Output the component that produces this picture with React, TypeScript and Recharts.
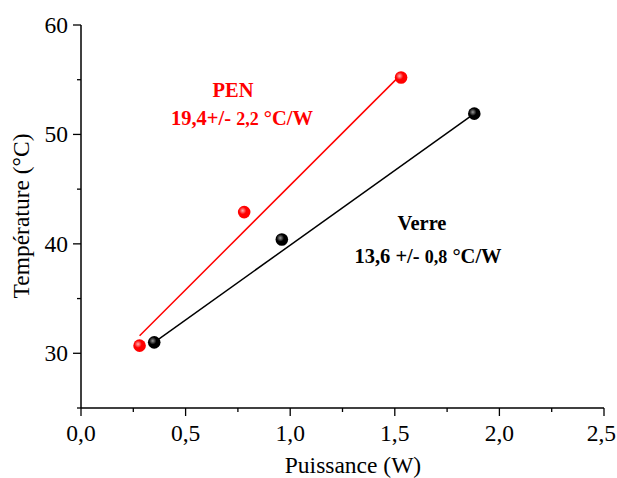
import React from "react";
import { ScatterChart, Scatter, XAxis, YAxis } from "recharts";

// measured points
const penPower = [0.28, 0.78, 1.53];
const penTemp = [30.7, 42.9, 55.2];
const verrePower = [0.35, 0.96, 1.88];
const verreTemp = [31.0, 40.4, 51.9];

// linear fits (end points)
const penFitPower = [0.28, 1.51];
const penFitTemp = [31.6, 55.1];
const verreFitPower = [0.35, 1.88];
const verreFitTemp = [31.0, 51.9];

const xTicks = [0, 0.25, 0.5, 0.75, 1, 1.25, 1.5, 1.75, 2, 2.25, 2.5];
const yTicks = [25, 30, 35, 40, 45, 50, 55, 60];

const toPts = (xs: number[], ys: number[]) => xs.map((p, i) => ({ p, t: ys[i] }));

const penData = toPts(penPower, penTemp);
const verreData = toPts(verrePower, verreTemp);
const penFit = toPts(penFitPower, penFitTemp);
const verreFit = toPts(verreFitPower, verreFitTemp);

const FONT = "'Liberation Serif', 'Times New Roman', serif";

const isMajor = (v: number, step: number) => Math.abs(v / step - Math.round(v / step)) < 1e-6;
const fmt = (v: number, d: number) => v.toFixed(d).replace(".", ",");

const BottomTick = (props: any) => {
  const { x, y, payload } = props;
  const major = isMajor(payload.value, 0.5);
  // keep the last label inside the picture
  const last = payload.value === 2.5;
  return (
    <g>
      <line x1={x} x2={x} y1={y} y2={y + (major ? 8 : 4)} stroke="#000" strokeWidth={1.3} />
      {major && (
        <text
          x={last ? x + 12 : x}
          y={y + 33}
          textAnchor={last ? "end" : "middle"}
          fontFamily={FONT}
          fontSize={23.5}
          fill="#000"
        >
          {fmt(payload.value, 1)}
        </text>
      )}
    </g>
  );
};

const TopTick = (props: any) => {
  const { x, y, payload } = props;
  const major = isMajor(payload.value, 0.5);
  return <line x1={x} x2={x} y1={y} y2={y + (major ? 8 : 4)} stroke="#000" strokeWidth={1.3} />;
};

const LeftTick = (props: any) => {
  const { x, y, payload } = props;
  const major = isMajor(payload.value, 10) && payload.value !== 25;
  const isMinor = !isMajor(payload.value, 10);
  return (
    <g>
      <line x1={x} x2={x - (isMinor ? 4 : 8)} y1={y} y2={y} stroke="#000" strokeWidth={1.3} />
      {major && (
        <text x={x - 13} y={y + 8} textAnchor="end" fontFamily={FONT} fontSize={23.5} fill="#000">
          {payload.value}
        </text>
      )}
    </g>
  );
};

const RightTick = (props: any) => {
  const { x, y, payload } = props;
  const isMinor = !isMajor(payload.value, 10);
  return <line x1={x} x2={x - (isMinor ? 4 : 8)} y1={y} y2={y} stroke="#000" strokeWidth={1.3} />;
};

const Sphere = (color: string, light: string, id: string) => (props: any) => {
  const { cx, cy } = props;
  return (
    <g>
      <defs>
        <radialGradient id={id} cx="0.38" cy="0.38" r="0.65">
          <stop offset="0%" stopColor={light} />
          <stop offset="45%" stopColor={color} />
          <stop offset="100%" stopColor={color} />
        </radialGradient>
      </defs>
      <circle cx={cx} cy={cy} r={6.3} fill={`url(#${id})`} />
    </g>
  );
};

const RedSphere = Sphere("#ff0000", "#ffb0b0", "gradRed");
const BlackSphere = Sphere("#000000", "#9a9a9a", "gradBlack");
const NoShape = () => <g />;

export default function App() {
  return (
    <div style={{ position: "absolute", left: 0, top: 0, width: 617, height: 478, background: "#fff" }}>
      <ScatterChart width={617} height={478} margin={{ top: 25, right: 13, bottom: 0, left: 0 }}>
        <XAxis
          xAxisId="bottom"
          dataKey="p"
          type="number"
          domain={[0, 2.5]}
          ticks={xTicks}
          interval={0}
          height={70}
          tickSize={0}
          tickMargin={0}
          tickLine={false}
          axisLine={{ stroke: "#000", strokeWidth: 1.5 }}
          tick={<BottomTick />}
          allowDataOverflow
        />
        <XAxis
          xAxisId="top"
          orientation="top"
          type="number"
          domain={[0, 2.5]}
          ticks={xTicks}
          interval={0}
          height={0}
          tickSize={0}
          tickMargin={0}
          tickLine={false}
          axisLine={{ stroke: "#000", strokeWidth: 1.5 }}
          tick={<TopTick />}
          allowDataOverflow
        />
        <YAxis
          yAxisId="left"
          dataKey="t"
          type="number"
          domain={[25, 60]}
          ticks={yTicks}
          interval={0}
          width={81}
          tickSize={0}
          tickMargin={0}
          tickLine={false}
          axisLine={{ stroke: "#000", strokeWidth: 1.5 }}
          tick={<LeftTick />}
          allowDataOverflow
        />
        <YAxis
          yAxisId="right"
          orientation="right"
          type="number"
          domain={[25, 60]}
          ticks={yTicks}
          interval={0}
          width={0}
          tickSize={0}
          tickMargin={0}
          tickLine={false}
          axisLine={{ stroke: "#000", strokeWidth: 1.5 }}
          tick={<RightTick />}
          allowDataOverflow
        />
        <Scatter
          xAxisId="bottom"
          yAxisId="left"
          data={penFit}
          line={{ stroke: "#ff0000", strokeWidth: 1.5 }}
          shape={NoShape}
          isAnimationActive={false}
        />
        <Scatter
          xAxisId="bottom"
          yAxisId="left"
          data={verreFit}
          line={{ stroke: "#000000", strokeWidth: 1.5 }}
          shape={NoShape}
          isAnimationActive={false}
        />
        <Scatter xAxisId="bottom" yAxisId="left" data={penData} shape={RedSphere} isAnimationActive={false} />
        <Scatter xAxisId="bottom" yAxisId="left" data={verreData} shape={BlackSphere} isAnimationActive={false} />
      </ScatterChart>
      <svg width={617} height={478} style={{ position: "absolute", left: 0, top: 0, pointerEvents: "none" }}>
        <text x={353} y={473} textAnchor="middle" fontFamily={FONT} fontSize={23.5} fill="#000">
          Puissance (W)
        </text>
        <text
          x={29}
          y={216}
          textAnchor="middle"
          fontFamily={FONT}
          fontSize={23.5}
          fill="#000"
          transform="rotate(-90, 29, 216)"
        >
          Température (°C)
        </text>
        <text x={233} y={97} textAnchor="middle" fontFamily={FONT} fontSize={20.5} fontWeight="bold" fill="#ff0000">
          PEN
        </text>
        <text x={242} y={125} textAnchor="middle" fontFamily={FONT} fontSize={20.5} fontWeight="bold" fill="#ff0000">
          19,4+/- <tspan fontSize={18}>2,2</tspan> °C/W
        </text>
        <text x={422} y={230} textAnchor="middle" fontFamily={FONT} fontSize={20.5} fontWeight="bold" fill="#000">
          Verre
        </text>
        <text x={428} y={263} textAnchor="middle" fontFamily={FONT} fontSize={20.5} fontWeight="bold" fill="#000">
          13,6 +/- <tspan fontSize={18}>0,8</tspan> °C/W
        </text>
      </svg>
    </div>
  );
}
